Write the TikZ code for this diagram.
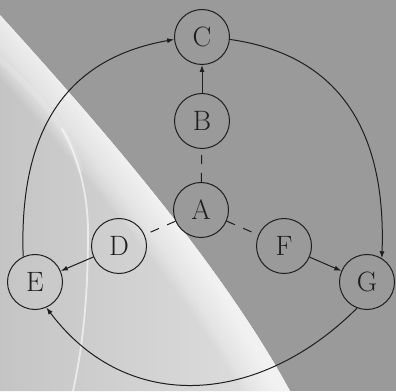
\documentclass[tikz,border=0pt]{standalone}
\usetikzlibrary{arrows.meta}
\definecolor{bggray}{HTML}{9A9A9A}
\definecolor{inkc}{HTML}{1E1E1E}
\begin{document}
\begin{tikzpicture}[x=1pt,y=1pt,
  vert/.style={circle,draw=inkc,line width=1pt,minimum size=55pt,inner sep=0pt,
    font=\fontsize{28}{30}\selectfont,text=inkc},
  arr/.style={draw=inkc,line width=1pt,-{Latex[length=7pt,width=5pt]}},
  dsh/.style={draw=inkc,line width=1pt,dash pattern=on 9pt off 9pt},
  glow/.style={white,line cap=round}
]
\useasboundingbox (0,0) rectangle (396,391);
\fill[bggray] (0,0) rectangle (396,391);
% light region
\shade[left color=black!23,right color=black!12]
  (0,376) .. controls (110,255) and (225,120) .. (290,0) -- (0,0) -- cycle;
\begin{scope}
  \clip (0,376) .. controls (110,255) and (225,120) .. (290,0) -- (0,0) -- cycle;
  \foreach \w in {4,8,...,84}{
    \draw[glow,line width=\w pt,opacity=0.07]
      (-14,391) -- (0,376) .. controls (110,255) and (225,120) .. (290,0) -- (296,-12);
  }
  \draw[glow,line width=6pt,opacity=0.15]
    (0,331) .. controls (40,295) and (70,260) .. (80,221);
  \draw[glow,line width=1.8pt,opacity=0.6]
    (62,262) .. controls (76,240) and (88,200) .. (88,160)
    .. controls (88,100) and (84,50) .. (73,0);
\end{scope}
% nodes
\node[vert,fill=bggray] (A) at (201,181) {A};
\node[vert] (B) at (202,270) {B};
\node[vert] (C) at (202,354) {C};
\node[vert] (D) at (119,145) {D};
\node[vert] (E) at (35,109) {E};
\node[vert] (F) at (284,145) {F};
\node[vert] (G) at (367,109) {G};
% edges
\draw[dsh] (A) -- (B);
\draw[dsh] (A) -- (D);
\draw[dsh] (A) -- (F);
\draw[arr] (B) -- (C);
\draw[arr] (D) -- (E);
\draw[arr] (F) -- (G);
\draw[arr] (C.-5) to[out=-8,in=88,out looseness=0.95,in looseness=1.36] (G.58);
\draw[arr] (G.249) to[out=225,in=-53,looseness=1.12] (E.294);
\draw[arr] (E.115) to[out=92,in=190,out looseness=1.36,in looseness=0.95] (C.185);
\end{tikzpicture}
\end{document}
